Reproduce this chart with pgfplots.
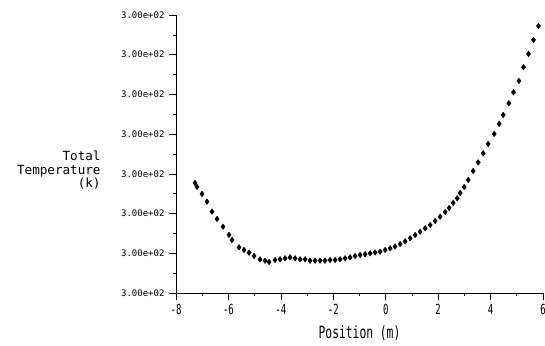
\documentclass[border=0pt]{standalone}
\usepackage{pgfplots}
\pgfplotsset{compat=1.18}
\usepackage{graphicx}
\usepackage{fontspec}
\setmainfont{DejaVu Sans Mono}
\newcommand\tl[1]{\scalebox{1}[1.55]{#1}}
\pgfplotstableread{
x y
-7.275 2.771
-7.198 2.670
-7.008 2.494
-6.817 2.300
-6.626 2.048
-6.435 1.864
-6.206 1.670
-5.977 1.461
-5.863 1.335
-5.595 1.151
-5.405 1.083
-5.214 1.015
-5.023 0.932
-4.794 0.849
-4.603 0.814
-4.450 0.781
-4.221 0.831
-4.031 0.849
-3.840 0.874
-3.649 0.899
-3.458 0.874
-3.267 0.849
-3.076 0.849
-2.885 0.814
-2.695 0.814
-2.504 0.814
-2.313 0.814
-2.122 0.831
-1.931 0.831
-1.740 0.849
-1.550 0.874
-1.359 0.899
-1.168 0.932
-0.977 0.957
-0.786 0.975
-0.595 1.000
-0.405 1.020
-0.214 1.040
-0.023 1.083
0.168 1.126
0.359 1.171
0.550 1.234
0.740 1.302
0.931 1.378
1.122 1.461
1.313 1.544
1.504 1.630
1.695 1.713
1.885 1.814
2.076 1.922
2.267 2.040
2.420 2.141
2.573 2.267
2.725 2.385
2.840 2.519
2.992 2.670
3.145 2.846
3.336 3.073
3.527 3.287
3.718 3.519
3.908 3.753
4.137 4.005
4.328 4.259
4.481 4.484
4.698 4.778
4.874 5.055
5.080 5.340
5.256 5.685
5.447 6.020
5.637 6.373
5.828 6.725
}\datatable
\begin{document}
\begin{tikzpicture}
\useasboundingbox (0,0) rectangle (545pt,345pt);
\begin{axis}[
  at={(176pt,52pt)}, anchor=south west,
  scale only axis, width=367pt, height=278pt,
  xmin=-8, xmax=6, ymin=0, ymax=7,
  axis lines=left, axis line style={-, black, line width=0.7pt},
  xtick={-8,-6,-4,-2,0,2,4,6},
  xticklabels={\tl{-8},\tl{-6},\tl{-4},\tl{-2},\tl{0},\tl{2},\tl{4},\tl{6}},
  ytick={0,1,2,3,4,5,6,7},
  yticklabels={3.00e+02,3.00e+02,3.00e+02,3.00e+02,3.00e+02,3.00e+02,3.00e+02,3.00e+02},
  minor x tick num=1, minor y tick num=1,
  tick align=outside, major tick length=7pt, minor tick length=3pt,
  tick style={black, line width=0.6pt},
  every tick label/.append style={font=\fontsize{9}{10}\selectfont, text=black},
  yticklabel style={xshift=-1pt},
  xticklabel style={yshift=-1pt},
  xlabel={\scalebox{1}[1.5]{Position (m)}},
  xlabel style={font=\fontsize{11.3}{13}\selectfont, anchor=center, at={(axis description cs:0.5,-0.144)}},
  ylabel={Total\\Temperature\\(k)},
  ylabel style={rotate=-90, align=right, anchor=east, font=\fontsize{12.6}{13.5}\selectfont, at={(axis description cs:-0.196,0.442)}},
  clip=false,
]
\addplot[only marks, mark=diamond*, mark size=2.8pt, black] table[x=x,y=y] {\datatable};
\end{axis}
\end{tikzpicture}
\end{document}
